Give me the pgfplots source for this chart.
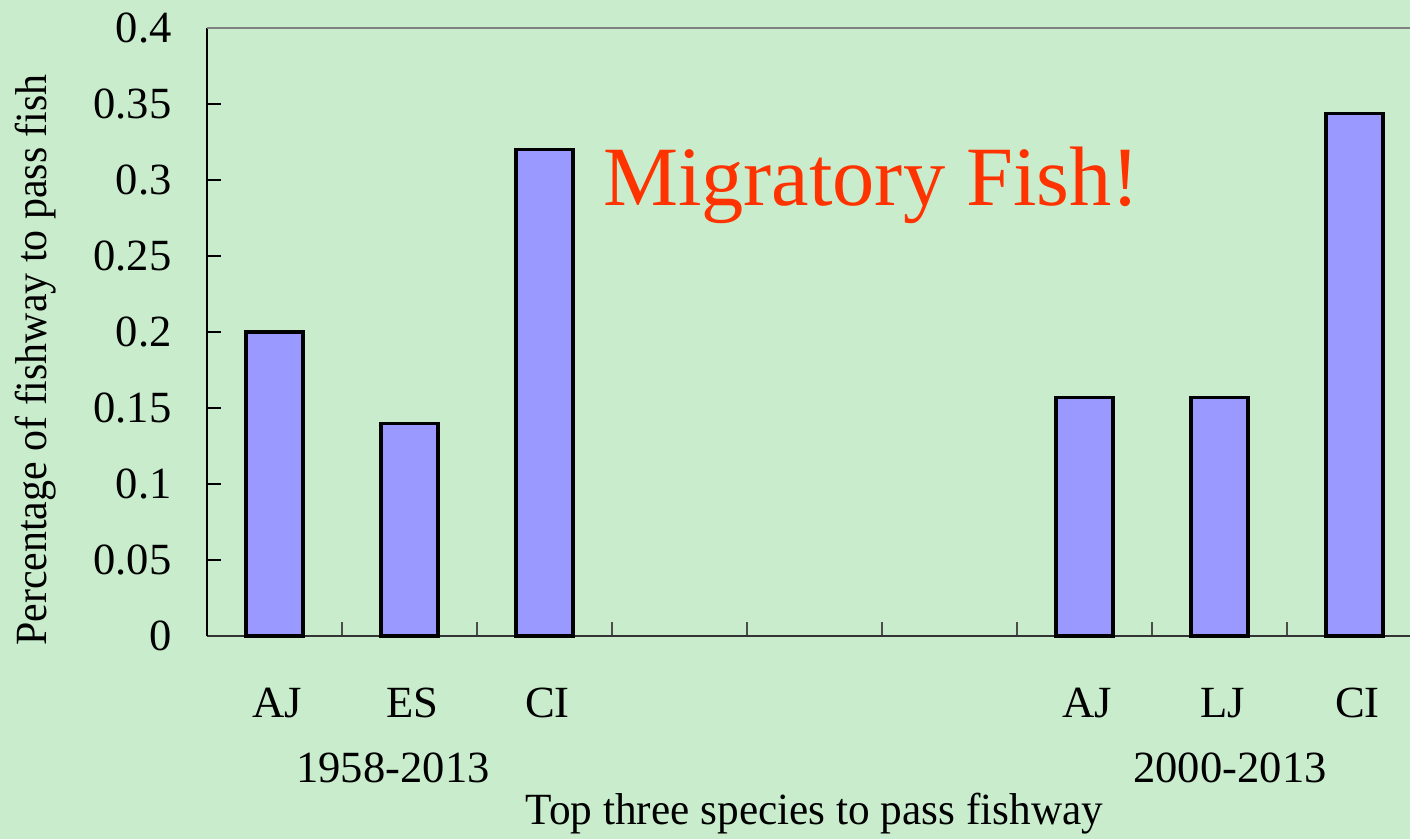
\documentclass[border=0pt]{standalone}
\usepackage{fontspec}
\setmainfont{Liberation Serif}
\usepackage{graphicx}
\usepackage{pgfplots}
\pgfplotsset{compat=1.18}
\definecolor{bg}{RGB}{200,236,204}
\definecolor{barfill}{RGB}{153,153,255}
\definecolor{titlered}{RGB}{255,51,0}
\begin{document}
\fontsize{22.3}{26}\selectfont
\begin{tikzpicture}
\fill[bg] (-103.5pt,-101.5pt) rectangle (601.5pt,318pt);
\begin{axis}[
  scale only axis, width=607.5pt, height=304pt,
  xmin=0, xmax=9, ymin=0, ymax=0.4,
  axis lines=left,
  axis line style={-, line width=1pt},
  x axis line style={draw=black!80},
  y axis line style={draw=black},
  tick align=inside,
  xtick={1,2,3,4,5,6,7,8}, xticklabels={},
  major tick length=7pt,
  x tick style={draw=black!70, line width=0.6pt},
  y tick style={draw=black, line width=0.6pt},
  ytick={0,0.05,0.1,0.15,0.2,0.25,0.3,0.35,0.4},
  yticklabel style={/pgf/number format/fixed, /pgf/number format/precision=2,
    /pgf/number format/assume math mode=true, anchor=east, inner sep=0pt, xshift=-17.5pt},
  extra x ticks={0.5,1.5,2.5,6.5,7.5,8.5},
  extra x tick labels={AJ,ES,CI,AJ,LJ,CI},
  extra x tick style={major tick length=0pt, xticklabel style={anchor=base, yshift=-41pt, xshift=1.5pt}},
  xlabel={\scalebox{0.97}[1]{Top three species to pass fishway}},
  xlabel style={at={(rel axis cs:0.5,0)}, anchor=base, yshift=-94.5pt},
  ylabel={\scalebox{0.94}[1]{Percentage of fishway to pass fish}},
  ylabel style={at={(rel axis cs:-0.1407,0.454)}, anchor=center},
  clip=false,
]
\addplot[ybar, bar width=28.5pt, fill=barfill, draw=black, line width=1.6pt]
  coordinates {(0.5,0.2) (1.5,0.14) (2.5,0.32) (6.5,0.157) (7.5,0.157) (8.5,0.344)};
\draw[draw={rgb,255:red,128;green,128;blue,128}, line width=1pt] (rel axis cs:0,1) -- (rel axis cs:1,1);
\node[anchor=base, text=titlered, font=\fontsize{42.2}{50}\selectfont] at (axis cs:4.922,0.2829) {Migratory Fish!};
\node[anchor=base, yshift=-73.5pt] at (axis cs:1.378,0) {1958-2013};
\node[anchor=base, yshift=-73.5pt] at (axis cs:7.578,0) {2000-2013};
\end{axis}
\pgfresetboundingbox
\useasboundingbox (-103.5pt,-101.5pt) rectangle (601.5pt,318pt);
\end{tikzpicture}
\end{document}
